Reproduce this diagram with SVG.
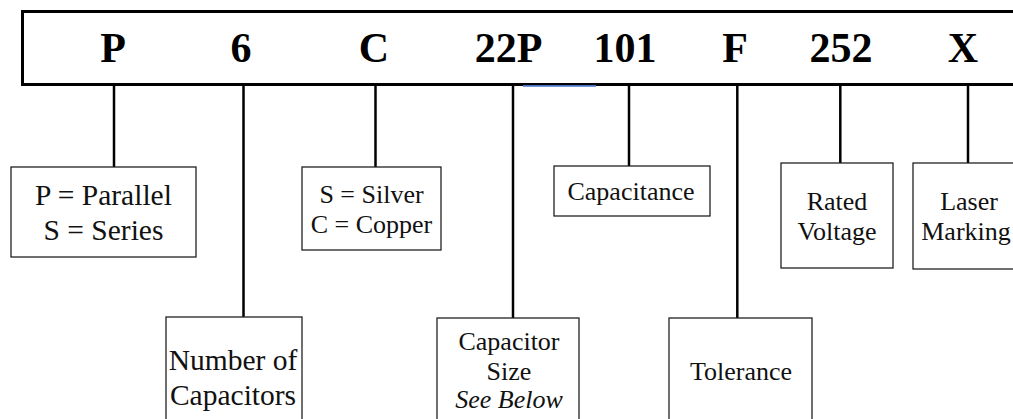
<svg xmlns="http://www.w3.org/2000/svg" width="1013" height="419" viewBox="0 0 1013 419">
<style>
.code{font-family:"Liberation Serif","Times New Roman",serif;font-weight:bold;font-size:42px;fill:#000;text-anchor:middle}
.lbl{font-family:"Liberation Serif","Times New Roman",serif;font-size:26px;fill:#111;text-anchor:middle}
.lbl29{font-size:29.5px}
.box{fill:#fff;stroke:#222;stroke-width:1.3}
.conn{stroke:#000;stroke-width:2.5;fill:none}
</style>
<rect width="1013" height="419" fill="#fff"/>
<g id="header">
<rect x="22.5" y="11.5" width="1100" height="73" fill="#fff" stroke="#000" stroke-width="3"/>
<line x1="523" y1="85.8" x2="596" y2="85.8" stroke="#4472C4" stroke-width="1.8"/>
<text class="code" x="113" y="62">P</text>
<text class="code" x="241" y="62">6</text>
<text class="code" x="374" y="62">C</text>
<text class="code" x="508.5" y="62">22P</text>
<text class="code" x="625" y="62">101</text>
<text class="code" x="735" y="62">F</text>
<text class="code" x="841" y="62">252</text>
<text class="code" x="963" y="62">X</text>
</g>
<g id="connectors">
<line class="conn" x1="114" y1="86" x2="114" y2="167"/>
<line class="conn" x1="243.5" y1="86" x2="243.5" y2="317"/>
<line class="conn" x1="375.5" y1="86" x2="375.5" y2="167"/>
<line class="conn" x1="513" y1="86" x2="513" y2="318"/>
<line class="conn" x1="629" y1="86" x2="629" y2="166"/>
<line class="conn" x1="737.3" y1="86" x2="737.3" y2="318"/>
<line class="conn" x1="840.3" y1="86" x2="840.3" y2="163"/>
<line class="conn" x1="968" y1="86" x2="968" y2="163"/>
</g>
<g id="node-type">
<rect class="box" x="11" y="167" width="185" height="90"/>
<text class="lbl lbl29" x="103.5" y="205">P = Parallel</text>
<text class="lbl lbl29" x="103.5" y="240">S = Series</text>
</g>
<g id="node-count">
<rect class="box" x="166" y="317" width="136" height="120"/>
<text class="lbl lbl29" x="233" y="370">Number of</text>
<text class="lbl lbl29" x="233" y="405">Capacitors</text>
</g>
<g id="node-material">
<rect class="box" x="302" y="167" width="139" height="83"/>
<text class="lbl" x="371.5" y="203">S = Silver</text>
<text class="lbl" x="371.5" y="233">C = Copper</text>
</g>
<g id="node-size">
<rect class="box" x="437" y="318" width="142" height="120"/>
<text class="lbl" x="509" y="350">Capacitor</text>
<text class="lbl" x="509" y="380">Size</text>
<text class="lbl" x="509" y="408" font-style="italic">See Below</text>
</g>
<g id="node-capacitance">
<rect class="box" x="554" y="166" width="156" height="50"/>
<text class="lbl" x="631" y="200">Capacitance</text>
</g>
<g id="node-tolerance">
<rect class="box" x="669" y="318" width="143" height="120"/>
<text class="lbl" x="741" y="380">Tolerance</text>
</g>
<g id="node-voltage">
<rect class="box" x="781" y="163" width="112" height="105"/>
<text class="lbl" x="837" y="210">Rated</text>
<text class="lbl" x="837" y="240">Voltage</text>
</g>
<g id="node-marking">
<rect class="box" x="913" y="163" width="114" height="106"/>
<text class="lbl" x="969" y="210">Laser</text>
<text class="lbl" x="966" y="240">Marking</text>
</g>
</svg>
